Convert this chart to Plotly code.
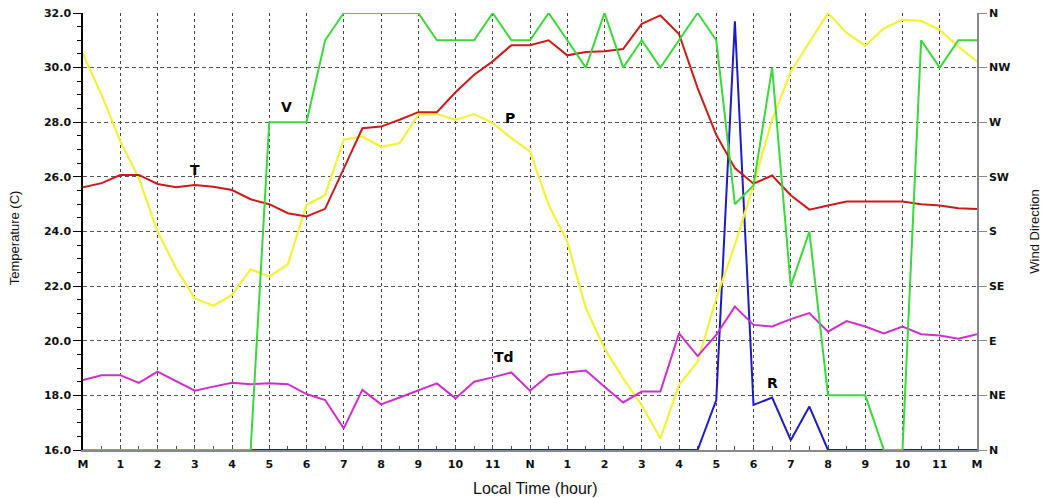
import plotly.graph_objects as go

hours = [0, 0.5, 1, 1.5, 2, 2.5, 3, 3.5, 4, 4.5, 5, 5.5, 6, 6.5, 7, 7.5, 8, 8.5, 9, 9.5,
         10, 10.5, 11, 11.5, 12, 12.5, 13, 13.5, 14, 14.5, 15, 15.5, 16, 16.5, 17, 17.5,
         18, 18.5, 19, 19.5, 20, 20.5, 21, 21.5, 22, 22.5, 23, 23.5, 24]

temp_T = [25.62, 25.77, 26.07, 26.07, 25.74, 25.62, 25.70, 25.64, 25.52, 25.18, 25.00, 24.67,
          24.55, 24.83, 26.30, 27.78, 27.84, 28.09, 28.37, 28.37, 29.10, 29.74, 30.23, 30.82,
          30.82, 31.00, 30.45, 30.57, 30.60, 30.68, 31.60, 31.91, 31.23, 29.25, 27.54, 26.32,
          25.75, 26.05, 25.33, 24.80, 24.95, 25.10, 25.10, 25.10, 25.10, 25.00, 24.95, 24.85, 24.82]

pres_P = [30.50, 29.00, 27.30, 25.95, 24.00, 22.65, 21.55, 21.28, 21.68, 22.62, 22.35, 22.80,
          24.97, 25.34, 27.36, 27.48, 27.10, 27.23, 28.27, 28.30, 28.09, 28.30, 27.97, 27.42,
          26.93, 24.97, 23.63, 21.19, 19.72, 18.62, 17.64, 16.42, 18.38, 19.23, 21.55, 23.51,
          25.70, 28.10, 29.85, 30.95, 32.00, 31.27, 30.80, 31.44, 31.75, 31.71, 31.38, 30.77, 30.23]

dew_Td = [18.56, 18.74, 18.74, 18.46, 18.87, 18.52, 18.17, 18.32, 18.46, 18.41, 18.44, 18.41,
          18.05, 17.83, 16.79, 18.20, 17.67, 17.92, 18.17, 18.44, 17.89, 18.50, 18.66, 18.84,
          18.17, 18.74, 18.84, 18.91, 18.32, 17.74, 18.14, 18.14, 20.27, 19.44, 20.21, 21.25,
          20.58, 20.52, 20.79, 21.01, 20.33, 20.72, 20.52, 20.27, 20.52, 20.24, 20.19, 20.07, 20.24]

rain_R = [16, 16, 16, 16, 16, 16, 16, 16, 16, 16, 16, 16, 16, 16, 16, 16, 16, 16, 16, 16,
          16, 16, 16, 16, 16, 16, 16, 16, 16, 16, 16, 16, 16, 16, 17.83, 31.70,
          17.65, 17.92, 16.36, 17.59, 16, 16, 16, 16, 16, 16, 16, 16, 16]

wind_V = [0, 0, 0, 0, 0, 0, 0, 0, 0, 0, 270, 270, 270, 337.5, 360, 360, 360, 360, 360, 337.5,
          337.5, 337.5, 360, 337.5, 337.5, 360, 337.5, 315, 360, 315, 337.5, 315, 337.5, 360,
          337.5, 202.5, 218, 315, 135, 180, 45, 45, 45, 0, 0, 337.5, 315, 337.5, 337.5]

hour_ticks = list(range(25))
hour_labels = ["M", "1", "2", "3", "4", "5", "6", "7", "8", "9", "10", "11", "N",
               "1", "2", "3", "4", "5", "6", "7", "8", "9", "10", "11", "M"]
dir_ticks = [0, 45, 90, 135, 180, 225, 270, 315, 360]
dir_labels = ["N", "NE", "E", "SE", "S", "SW", "W", "NW", "N"]

series_labels = [("T", 3.0, 26.25), ("V", 5.45, 28.55), ("P", 11.45, 28.15),
                 ("Td", 11.3, 19.4), ("R", 18.5, 18.45)]

FONT = "Liberation Sans, Arial, sans-serif"
TICKFONT = dict(family="DejaVu Sans, Verdana, sans-serif", size=11, weight="bold", color="#111")

fig = go.Figure()
fig.add_trace(go.Scatter(x=hours, y=rain_R, mode="lines", line=dict(color="#1c1cc4", width=2), name="R"))
fig.add_trace(go.Scatter(x=hours, y=wind_V, mode="lines", line=dict(color="#3ad83a", width=2), name="V", yaxis="y2"))
fig.add_trace(go.Scatter(x=hours, y=pres_P, mode="lines", line=dict(color="#f2f23a", width=2.2), name="P"))
fig.add_trace(go.Scatter(x=hours, y=dew_Td, mode="lines", line=dict(color="#cc2fcc", width=2), name="Td"))
fig.add_trace(go.Scatter(x=hours, y=temp_T, mode="lines", line=dict(color="#cc1a1a", width=2), name="T"))

for txt, x, y in series_labels:
    fig.add_annotation(x=x, y=y, text=txt, showarrow=False,
                       font=dict(family="DejaVu Sans, sans-serif", size=14, color="black", weight="bold"))

# axis titles
fig.add_annotation(xref="paper", yref="paper", x=-0.077, y=0.485, text="Temperature (C)",
                   textangle=-90, showarrow=False, xanchor="center", yanchor="middle",
                   font=dict(family=FONT, size=13, color="#111"))
fig.add_annotation(xref="paper", yref="paper", x=1.064, y=0.50, text="Wind Direction",
                   textangle=-90, showarrow=False, xanchor="center", yanchor="middle",
                   font=dict(family=FONT, size=13, color="#111"))
fig.add_annotation(xref="paper", yref="paper", x=0.5056, y=-0.089, text="Local Time (hour)",
                   showarrow=False, xanchor="center", yanchor="middle",
                   font=dict(family=FONT, size=16, color="#111"))

fig.update_layout(
    width=1044, height=498,
    margin=dict(l=83, r=67, t=13, b=48, autoexpand=False),
    plot_bgcolor="white", paper_bgcolor="white",
    showlegend=False,
    hovermode=False,
    font=dict(family=FONT, color="black"),
    xaxis=dict(
        range=[0, 24], tickvals=hour_ticks, ticktext=hour_labels,
        showgrid=True, gridcolor="#444", griddash="dot", gridwidth=1,
        showline=True, linecolor="#888", linewidth=1.5,
        ticks="inside", ticklen=4, tickcolor="#555",
        minor=dict(dtick=0.5, ticks="inside", ticklen=4, tickcolor="#555", showgrid=False),
        tickfont=TICKFONT, ticklabelstandoff=3, ticklabeloverflow="allow",
        zeroline=False, automargin=False, layer="below traces",
    ),
    yaxis=dict(
        range=[16, 32], dtick=2, tickformat=".1f",
        showgrid=True, gridcolor="#555", griddash="4px,3px", gridwidth=1,
        showline=True, linecolor="black", linewidth=1.5,
        ticks="outside", ticklen=8, tickcolor="black",
        minor=dict(dtick=0.5, ticks="outside", ticklen=4, tickcolor="black", showgrid=False),
        tickfont=TICKFONT, ticklabeloverflow="allow",
        zeroline=False, automargin=False,
    ),
    yaxis2=dict(
        overlaying="y", side="right", range=[0, 360],
        tickvals=dir_ticks, ticktext=dir_labels,
        showgrid=False, showline=True, linecolor="#888", linewidth=1.5,
        ticks="outside", ticklen=8, tickcolor="#888",
        tickfont=TICKFONT, ticklabeloverflow="allow",
        zeroline=False, automargin=False,
    ),
)

fig.write_html("out.html", config={"displayModeBar": False},
               post_script="document.body.style.margin='0px';document.body.style.overflow='hidden';")
